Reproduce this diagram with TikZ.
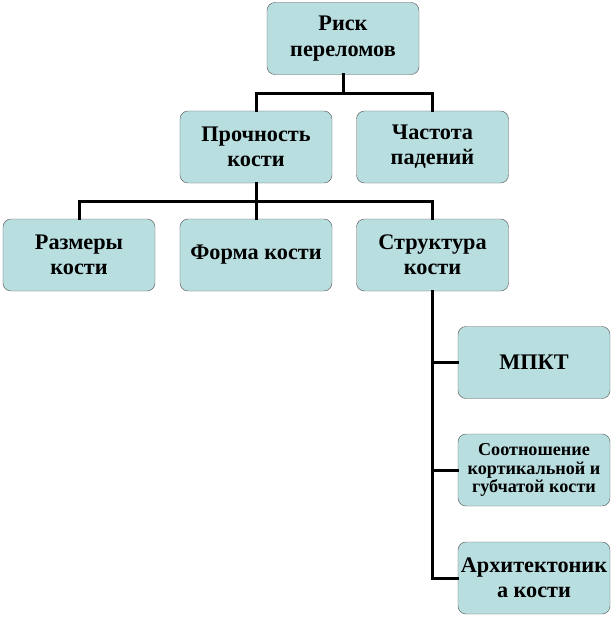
\documentclass[tikz,border=0pt]{standalone}
\usepackage{fontspec}
\setmainfont{Liberation Serif}
\usepackage{tikz}
\usetikzlibrary{calc}
\definecolor{boxblue}{RGB}{185,222,224}
\definecolor{boxline}{RGB}{90,90,90}
\tikzset{
    factor/.style={draw=boxline, fill=boxblue, rounded corners=0.24cm,
        minimum width=4.56cm, minimum height=2.16cm, align=center,
        inner xsep=1pt, font=\fontsize{19}{21.5}\selectfont\bfseries},
    smallfactor/.style={factor, font=\fontsize{15.5}{15.5}\selectfont\bfseries},
    link/.style={line width=0.09cm, line cap=rect}
}

\begin{document}
\begin{tikzpicture}[x=0.03cm, y=-0.03cm]
    \useasboundingbox (0, 0) rectangle (614, 618);

    % Draw links
    \coordinate (bus1) at (343, 93);
    \coordinate (bus2) at (256, 201);

    % Draw boxes
    \node[factor] (risk) at (343, 38.5) {Риск\\переломов};
    \node[factor] (strength) at (256, 147) {Прочность\\кости};
    \node[factor] (falls) at (432.5, 147) {Частота\\падений};
    \node[factor] (size) at (79, 255) {Размеры\\кости};
    \node[factor] (shape) at (256, 255) {Форма кости};
    \node[factor] (struct) at (432.5, 255) {Структура\\кости};
    \node[factor] (bmd) at (534, 362.5) {МПКТ};
    \node[smallfactor] (ratio) at (534, 470) {Соотношение\\кортикальной и\\губчатой кости};
    \node[factor] (arch) at (534, 578) {Архитектоник\\а кости};

    \draw[link] (risk) -- (bus1) -| (strength);
    \draw[link] (bus1) -| (falls);
    \draw[link] (strength) -- (bus2) -| (size);
    \draw[link] (bus2) -| (struct);
    \draw[link] (bus2) -- (shape);
    \draw[link] (struct.south) |- (bmd.west);
    \draw[link] (struct.south) |- (ratio.west);
    \draw[link] (struct.south) |- (arch.west);
\end{tikzpicture}
\end{document}
